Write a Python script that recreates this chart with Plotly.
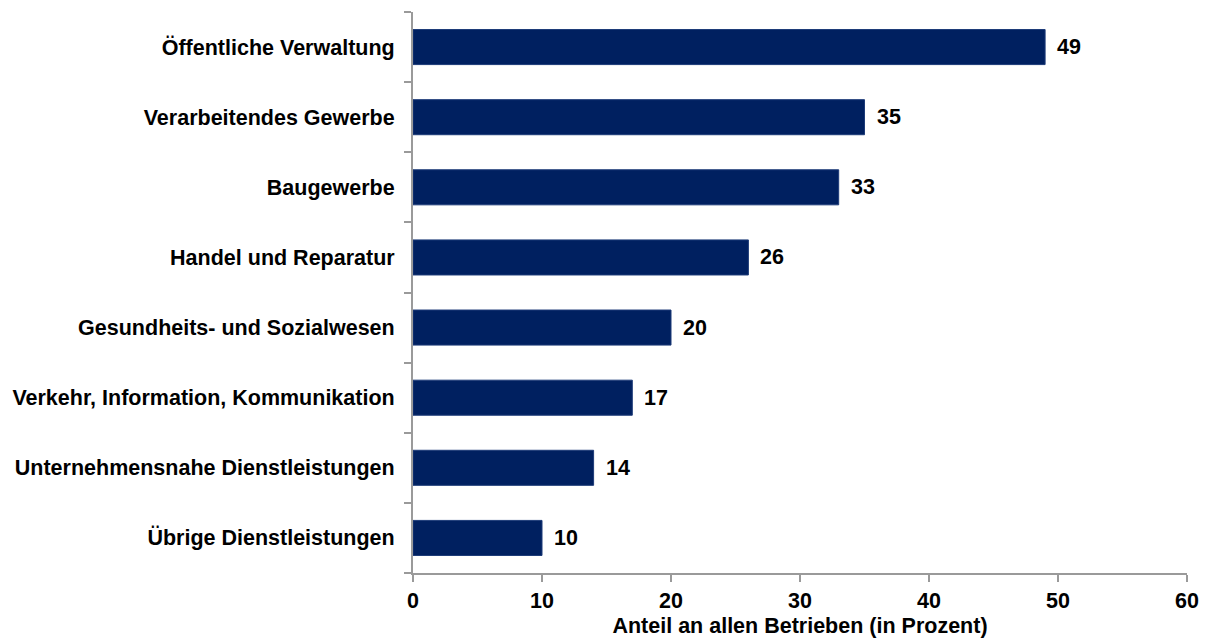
import plotly.graph_objects as go

branchen = [
    "Öffentliche Verwaltung",
    "Verarbeitendes Gewerbe",
    "Baugewerbe",
    "Handel und Reparatur",
    "Gesundheits- und Sozialwesen",
    "Verkehr, Information, Kommunikation",
    "Unternehmensnahe Dienstleistungen",
    "Übrige Dienstleistungen",
]
anteile = [49, 35, 33, 26, 20, 17, 14, 10]
x_ticks = [0, 10, 20, 30, 40, 50, 60]

FONT = "Liberation Sans, Arial, sans-serif"
FS = 21.5
NAVY = "#002060"
AXIS = "#9a9a9a"

fig = go.Figure(
    go.Bar(
        x=anteile,
        y=branchen,
        orientation="h",
        width=0.5,
        marker=dict(color=NAVY, line=dict(color="#1d3b78", width=1)),
        hoverinfo="x+y",
    )
)

# value labels to the right of each bar
for name, val in zip(branchen, anteile):
    fig.add_annotation(
        x=val, y=name, text=f"<b>{val}</b>", showarrow=False,
        xanchor="left", yanchor="middle", xshift=10,
        font=dict(family=FONT, size=FS, color="#000000"),
    )

fig.update_layout(
    width=1206,
    height=642,
    margin=dict(l=413, r=19, t=12, b=69),
    plot_bgcolor="white",
    paper_bgcolor="white",
    showlegend=False,
    font=dict(family=FONT, size=FS, color="#000000"),
    bargap=0.5,
)

fig.update_xaxes(
    automargin=False,
    range=[0, 60],
    tickvals=x_ticks,
    ticktext=[f"<b>{t}</b>" for t in x_ticks],
    showgrid=False,
    zeroline=False,
    showline=True,
    linecolor=AXIS,
    linewidth=2,
    ticks="outside",
    ticklen=7,
    tickwidth=2,
    tickcolor=AXIS,
    tickfont=dict(family=FONT, size=FS, color="#000000"),
    title=dict(
        text="<b>Anteil an allen Betrieben (in Prozent)</b>",
        font=dict(family=FONT, size=FS, color="#000000"),
        standoff=6,
    ),
)

fig.update_yaxes(
    automargin=False,
    categoryorder="array",
    categoryarray=branchen,
    autorange="reversed",
    showgrid=False,
    showline=True,
    linecolor=AXIS,
    linewidth=2,
    ticks="outside",
    tickson="boundaries",
    ticklen=7,
    tickwidth=2,
    tickcolor=AXIS,
    ticklabelstandoff=12,
    tickvals=branchen,
    ticktext=[f"<b>{b}</b>" for b in branchen],
    tickfont=dict(family=FONT, size=FS, color="#000000"),
)

fig.write_html("out.html")
